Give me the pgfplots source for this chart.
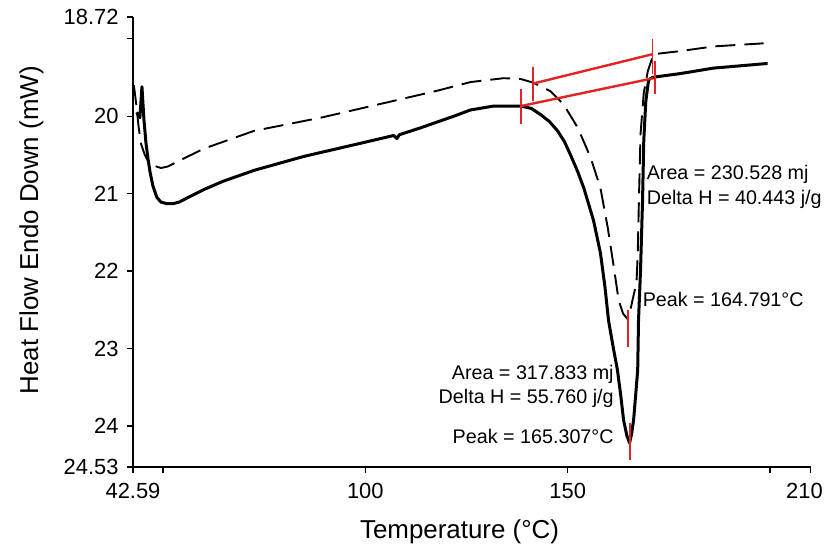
\documentclass[border=0pt]{standalone}
\usepackage{fontspec}
\setmainfont{Liberation Sans}
\usepackage{pgfplots}
\pgfplotsset{compat=1.18}
\definecolor{myred}{RGB}{225,35,35}
\begin{document}
\begin{tikzpicture}
\begin{axis}[
  scale only axis,
  width=677.5bp, height=450bp,
  xmin=42.59, xmax=210,
  ymin=18.72, ymax=24.53,
  y dir=reverse,
  axis x line*=bottom, axis y line*=left,
  axis line style={line width=1.3bp},
  tick align=outside,
  major tick length=6bp,
  every tick/.style={black, line width=1.2bp},
  xtick={42.59,100,150,210},
  xticklabels={42.59,100,150,{\kern-12bp 210}},
  extra x ticks={50,200}, extra x tick labels={},
  ytick={18.72,20,21,22,23,24,24.53},
  yticklabels={18.72,20,21,22,23,24,24.53},
  extra y ticks={19}, extra y tick labels={},
  tick label style={font=\fontsize{22}{26}\selectfont},
  xticklabel style={yshift=-7bp},
  yticklabel style={xshift=-5bp},
  /pgf/number format/assume math mode=true,
  xlabel={Temperature (°C)}, ylabel={Heat Flow Endo Down (mW)},
  label style={font=\fontsize{26}{30}\selectfont},
  xlabel style={at={(axis description cs:0.482,-0.145)}, anchor=center},
  ylabel style={at={(axis description cs:-0.150,0.526)}, anchor=center},
  clip=false,
]
\coordinate (O) at (axis cs:42.59,24.53);
% solid curve
\addplot[black, line width=3bp, line join=round] coordinates {
(43.5,19.95) (44.3,20.02) (44.8,19.62) (45.3,20.05) (45.8,20.35) (46.3,20.55)
(46.8,20.72) (47.5,20.90) (48.5,21.05) (49.5,21.11) (51.0,21.13) (52.5,21.13)
(54.0,21.11) (56.2,21.05) (60,20.95) (64.9,20.84) (72.5,20.70) (84.8,20.52)
(97.2,20.37) (107.0,20.25) (107.8,20.29) (108.4,20.24) (113.7,20.15) (121.9,20.00)
(126.0,19.92) (131.7,19.87) (138.4,19.87) (141,19.90) (143.3,19.98) (145.5,20.07)
(147.5,20.19) (149.2,20.33) (150.7,20.50) (152.5,20.72) (154.0,20.93) (156.4,21.35)
(158.1,21.77) (159.2,22.20) (160.1,22.64) (161.2,22.97) (162.3,23.28) (163.1,23.60)
(163.8,23.92) (164.6,24.12) (165.3,24.22) (165.8,24.10) (166.3,23.92) (167.3,23.28)
(167.5,22.64) (168.0,21.99) (168.5,21.09) (168.8,20.32) (169.3,19.81) (170.0,19.53)
(171,19.50) (172.2,19.49) (177.9,19.45) (186.0,19.38) (199.4,19.32)
};
% dashed curve
\addplot[black, line width=1.9bp, dash pattern=on 20bp off 9bp] coordinates {
(42.8,19.60) (43.4,19.85) (44.0,20.15) (44.6,20.36) (45.5,20.50) (46.3,20.58)
(47.8,20.64) (49.5,20.67) (51.2,20.65) (55,20.55) (60.1,20.42) (72.5,20.19)
(89.0,20.02) (105.6,19.82) (117.9,19.67) (126.0,19.56) (134.2,19.51) (138.4,19.52)
(141.6,19.57) (145.8,19.68) (149.0,19.85) (152.5,20.15) (155.7,20.54) (158.1,20.93)
(159.9,21.44) (161.4,21.95) (162.6,22.38) (163.7,22.55) (164.8,22.62) (165.5,22.50)
(166.0,22.38) (167.0,22.15) (167.3,21.80) (167.6,21.09) (168.0,20.23) (168.8,19.70)
(169.8,19.42) (171.2,19.20) (177.9,19.16) (186.0,19.10) (198.4,19.06)
};
% red baselines and markers
\addplot[myred, line width=2.4bp] coordinates {(141.4,19.58) (171.0,19.20)};
\addplot[myred, line width=2.4bp] coordinates {(138.4,19.87) (171.2,19.51)};
\addplot[myred, line width=1.6bp] coordinates {(141.4,19.36) (141.4,19.81)};
\addplot[myred, line width=1.6bp] coordinates {(171.0,19.00) (171.0,19.46)};
\addplot[myred, line width=1.6bp] coordinates {(138.4,19.65) (138.4,20.10)};
\addplot[myred, line width=1.6bp] coordinates {(171.6,19.29) (171.6,19.72)};
\addplot[myred, line width=2bp] coordinates {(165.3,23.96) (165.3,24.44)};
\addplot[myred, line width=2bp] coordinates {(164.8,22.50) (164.8,22.98)};
% annotations
\begin{scope}[font=\fontsize{19.8}{23}\selectfont, inner sep=0pt]
\node[anchor=west] at (axis cs:169.5,20.75) {Area = 230.528 mj};
\node[anchor=west] at (axis cs:169.5,21.08) {Delta H = 40.443 j/g};
\node[anchor=west] at (axis cs:168.5,22.37) {Peak = 164.791°C};
\node[anchor=east] at (axis cs:161.4,23.33) {Area = 317.833 mj};
\node[anchor=east] at (axis cs:161.4,23.65) {Delta H = 55.760 j/g};
\node[anchor=east] at (axis cs:161.4,24.13) {Peak = 165.307°C};
\end{scope}
\end{axis}
\pgfresetboundingbox
\path ([shift={(-133bp,-83bp)}]O) rectangle ([shift={(693bp,467bp)}]O);
\end{tikzpicture}
\end{document}
